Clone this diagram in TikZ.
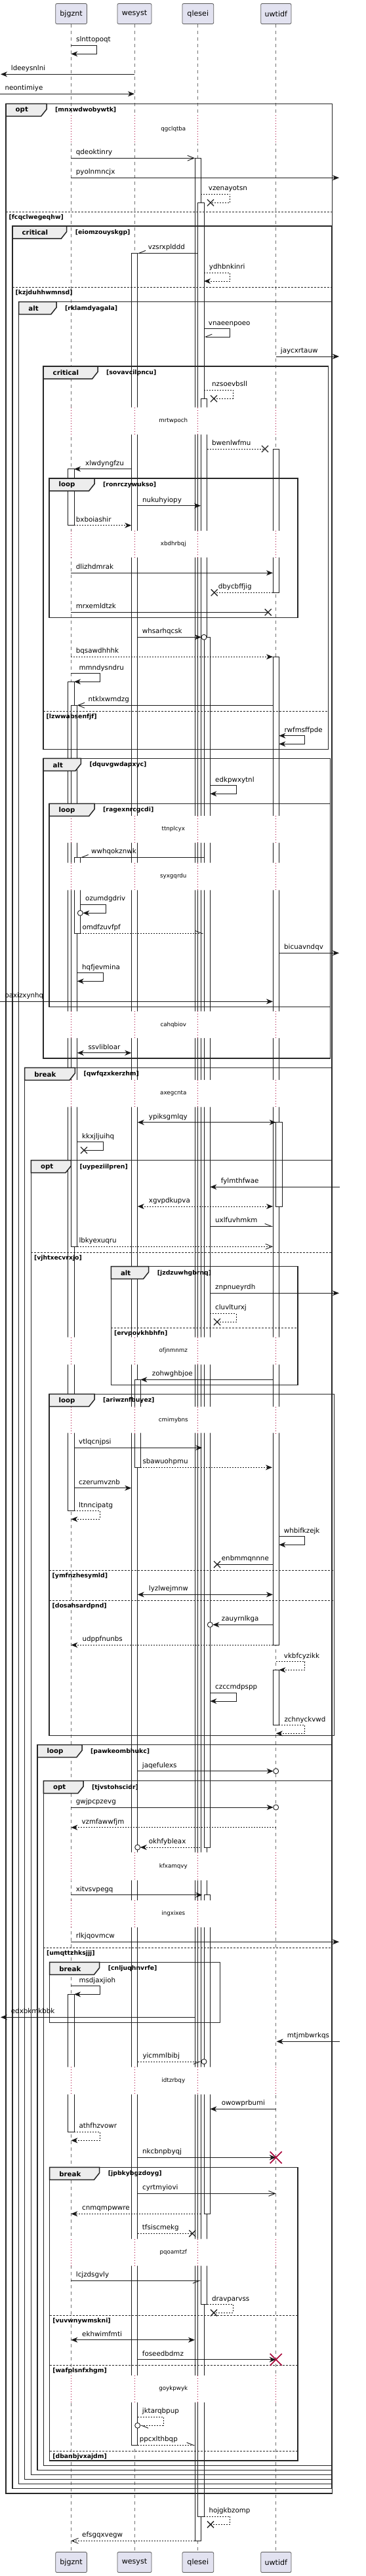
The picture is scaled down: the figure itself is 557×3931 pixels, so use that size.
\documentclass[tikz,border=0pt]{standalone}
\usepackage{fontspec}
\setmainfont{DejaVu Sans}
\usetikzlibrary{arrows.meta}
\definecolor{partfill}{HTML}{E2E2F0}
\definecolor{xred}{HTML}{A80036}
\tikzset{
 pF/.tip={Stealth[length=10pt,width=8pt,inset=3pt]},
 pO/.tip={Straight Barb[length=10pt,width=8pt]},
 pHL/.tip={Straight Barb[length=10pt,width=8pt,left]},
 pHR/.tip={Straight Barb[length=10pt,width=8pt,right]},
 part/.style={draw=black!65, fill=partfill, rounded corners=2pt, minimum height=31pt, inner sep=0pt, line width=0.8pt, font=\fontsize{11.1}{13}\selectfont},
 life/.style={draw=black!55, line width=0.9pt, dash pattern=on 5pt off 5pt},
 actbar/.style={draw=black!90, fill=white, line width=0.9pt},
 msg/.style={draw=black!90, line width=0.9pt},
 dmsg/.style={msg, dash pattern=on 2pt off 2pt},
 lbl/.style={anchor=base west, inner sep=0pt, font=\fontsize{10.3}{12}\selectfont},
 frmline/.style={draw=black!85, line width=1.5pt},
 tabfill/.style={draw=black!85, fill=black!7, line width=1.5pt},
 tabtxt/.style={anchor=west, inner sep=0pt, font=\bfseries\fontsize{10.2}{12}\selectfont},
 guardtxt/.style={anchor=west, inner sep=0pt, font=\bfseries\fontsize{9.3}{11}\selectfont},
 elseline/.style={draw=black!85, line width=0.8pt, dash pattern=on 3pt off 2pt},
 dlyline/.style={draw=xred, line width=0.9pt, dash pattern=on 1pt off 3pt},
 dlytxt/.style={inner sep=0pt, font=\fontsize{8.7}{10}\selectfont},
}
\newcommand\lab[3]{\node[lbl] (#3) at (#1,#2-5.5) {#3};}
\newcommand\xm[2]{\draw[line width=1.3pt, black!85] (#1-5,#2-5) -- (#1+5,#2+5) (#1-5,#2+5) -- (#1+5,#2-5);}
\newcommand\rx[2]{\draw[line width=1.6pt, xred] (#1-9,#2-9) -- (#1+9,#2+9) (#1-9,#2+9) -- (#1+9,#2-9);}
\newcommand\oc[2]{\draw[line width=0.9pt, black!90, fill=white] (#1,#2) circle (4pt);}
\newcommand\actb[4]{\draw[actbar] (#1,#2) rectangle (#3,#4);}
\newcommand\frm[7]{%
  \draw[frmline] (#1,#2) rectangle (#3,#4);
  \draw[tabfill] (#1,#2) -- (#5,#2) -- (#5,#2+8.5) -- (#5-8.3,#2+19) -- (#1,#2+19) -- cycle;
  \node[tabtxt] (t-#7) at (#1+14.5,#2+10) {#6};
  \node[guardtxt] (g-#7) at (#5+13,#2+10) {[#7]};
}
\newcommand\els[4]{%
  \draw[elseline] (#1,#3) -- (#2,#3);
  \node[guardtxt] (g-#4) at (#1+4.5,#3+8.5) {[#4]};
}
\newcommand\dly[3]{%
  \fill[white] (101,#1) rectangle (125,#2) (198,#1) rectangle (217,#2) (295,#1) rectangle (323,#2) (414,#1) rectangle (432,#2);
  \draw[dlyline] (108.3,#1) -- (108.3,#2) (205,#1) -- (205,#2) (301.7,#1) -- (301.7,#2) (420.7,#1) -- (420.7,#2);
  \node[dlytxt] (d-#3) at ({264.3},{(#1+#2)/2}) {#3};
}
\begin{document}
\begin{tikzpicture}[x=1pt,y=-1pt]
\useasboundingbox[fill=white] (0,0) rectangle (557,3931);
% participants
\node[part, minimum width=47.7pt] (pB) at (108.6,21) {bjgznt};
\node[part, minimum width=52pt] (pW) at (205,21) {wesyst};
\node[part, minimum width=47.7pt] (pQ) at (301.8,21) {qlesei};
\node[part, minimum width=46.3pt] (pU) at (420.8,21) {uwtidf};
\node[part, minimum width=47.7pt] (pBb) at (108.6,3910) {bjgznt};
\node[part, minimum width=52pt] (pWb) at (205,3910) {wesyst};
\node[part, minimum width=47.7pt] (pQb) at (301.8,3910) {qlesei};
\node[part, minimum width=46.3pt] (pUb) at (420.8,3910) {uwtidf};
% lifelines
\draw[life] (pB) -- (pBb);
\draw[life] (pW) -- (pWb);
\draw[life] (pQ) -- (pQb);
\draw[life] (pU) -- (pUb);
% activation bars
\actb{297}{241.3}{306}{3877.3}
\actb{301.7}{309.3}{311}{3840}
\actb{306.3}{608.3}{315.7}{3516.7}
\actb{311}{972.3}{320.3}{2819}
\actb{311}{2891.7}{320.3}{3378.3}
\actb{200.3}{386.3}{209.7}{3731.3}
\actb{205}{2105.3}{214.3}{2239.3}
\actb{103.7}{715.7}{113}{801.7}
\actb{103.7}{1040.3}{113}{2305.7}
\actb{108.3}{1076.3}{117.7}{1902.3}
\actb{113}{1308.3}{122.3}{1424.3}
\actb{103.7}{3043.3}{113}{3253.3}
\actb{416}{685}{425.3}{904.3}
\actb{416}{1002.3}{425.3}{2510.3}
\actb{420.7}{1712.7}{430}{1841}
\actb{416}{2548.3}{425.3}{2632.7}
% delays
\dly{176}{219}{qgclqtba}
\dly{621.7}{663}{mrtwpoch}
\dly{810}{850.7}{xbdhrbqj}
\dly{1245}{1286}{ttnplcyx}
\dly{1316.7}{1358.3}{syxgqrdu}
\dly{1543.3}{1584}{cahqbiov}
\dly{1648}{1689.3}{axegcnta}
\dly{2040.7}{2082.3}{ofjnmnmz}
\dly{2146.5}{2186.7}{cmimybns}
\dly{2826.7}{2869.3}{kfxamqvy}
\dly{2900}{2941}{ingxixes}
\dly{3154.3}{3196}{idtzrbqy}
\dly{3416.7}{3457.7}{pqoamtzf}
\dly{3625}{3666}{goykpwyk}
% frames
\frm{9}{158.3}{506.3}{3805}{71}{opt}{mnxwdwobywtk}
\els{9}{506.3}{323.3}{fcqclwegeqhw}
\frm{19}{345}{506}{3797.3}{101.7}{critical}{eiomzouyskgp}
\els{19}{506}{438}{kzjduhhwmnsd}
\frm{28.7}{460.7}{505.7}{3790.3}{86}{alt}{rklamdyagala}
\frm{66}{559}{500.7}{1143.3}{149}{critical}{sovavcilpncu}
\els{66}{500.7}{1085.3}{lzwwabsenfjf}
\frm{75}{730}{454}{942.3}{144}{loop}{ronrczywukso}
\frm{66}{1157.3}{503.3}{1615}{123.3}{alt}{dquvgwdapxyc}
\frm{75}{1226.3}{503.3}{1536.3}{144}{loop}{ragexnrcgcdi}
\frm{37.7}{1629.3}{505.5}{3783.3}{114.3}{break}{qwfqzxkerzhm}
\frm{47.3}{1770.7}{505.5}{3776.3}{108.3}{opt}{uypeziilpren}
\els{47.3}{505.5}{1911.3}{vjhtxecvrxjo}
\frm{169.3}{1932.7}{454}{2113.3}{226.7}{alt}{jzdzuwhgbrnq}
\els{169.3}{454}{2026.3}{ervpovkhbhfn}
\frm{75}{2127.3}{509.3}{2648.3}{144}{loop}{ariwznfbuyez}
\els{75}{509.3}{2396}{ymfnzhesymld}
\els{75}{509.3}{2442.3}{dosahsardpnd}
\frm{57}{2662.7}{505.5}{3769.3}{125}{loop}{pawkeombhukc}
\frm{66.3}{2717.7}{505.5}{3762.3}{127}{opt}{tjvstohscidr}
\els{66.3}{505.5}{2972.3}{umqttzhksjjj}
\frm{75.7}{2994.3}{335.7}{3086.7}{151.7}{break}{cnljuqhnvrfe}
\frm{75.7}{3307.3}{454}{3755}{151.7}{break}{jpbkybgzdoyg}
\els{75.7}{454}{3533}{vuvwnywmskni}
\els{75.7}{454}{3609.3}{wafplsnfxhgm}
\els{75.7}{454}{3740.3}{dbanbjvxajdm}
% messages
\draw[msg,-{pF}] (108.3,69.3) -- (147.7,69.3) -- (147.7,82.3) -- (108.3,82.3); \lab{116}{69.3}{slnttopoqt}
\draw[msg,-{pF}] (205,113.3) -- (1,113.3); \lab{16.7}{113.3}{ldeeysnlni}
\draw[msg,-{pF}] (0,143.3) -- (205,143.3); \lab{7.3}{143.3}{neontimiye}
\draw[msg,-{pO}] (108.3,241.3) -- (297,241.3); \lab{115.7}{241.3}{qdeoktinry}
\draw[msg,-{pF}] (108.3,271.3) -- (517,271.3); \lab{115.7}{271.3}{pyolnmncjx}
\draw[dmsg] (306,296) -- (350.7,296) -- (350.7,309.3) -- (321,309.3); \xm{321}{309.3} \lab{317.7}{296}{vzenayotsn}
\draw[msg,-{pHR}] (301.7,386.3) -- (209.7,386.3); \lab{225.7}{386.3}{vzsrxplddd}
\draw[dmsg,-{pF}] (311,416.3) -- (350.7,416.3) -- (350.7,429) -- (311,429); \lab{318.7}{416.3}{ydhbnkinri}
\draw[msg,-{pHR}] (311,501.7) -- (350.7,501.7) -- (350.7,514) -- (311,514); \lab{317.7}{501.7}{vnaeenpoeo}
\draw[msg,-{pF}] (420.7,544) -- (517,544); \lab{427.7}{544}{jaycxrtauw}
\draw[dmsg] (311,595.3) -- (355,595.3) -- (355,608.3) -- (326,608.3); \xm{326}{608.3} \lab{323}{595.3}{nzsoevbsll}
\draw[dmsg] (315.7,685) -- (404,685); \xm{404}{685} \lab{323}{685}{bwenlwfmu}
\draw[msg,-{pF}] (200.3,715.7) -- (113,715.7); \lab{130}{715.7}{xlwdyngfzu}
\draw[msg,-{pF}] (209.7,771.7) -- (306,771.7); \lab{217}{771.7}{nukuhyiopy}
\draw[dmsg,-{pF}] (113,801.7) -- (200.3,801.7); \lab{115.7}{801.7}{bxboiashir}
\draw[msg,-{pF}] (108.3,874.3) -- (416,874.3); \lab{115.7}{874.3}{dlizhdmrak}
\draw[dmsg] (416,904.3) -- (326.7,904.3); \xm{326.7}{904.3} \lab{332.7}{904.3}{dbycbffjig}
\draw[msg] (108.3,934.3) -- (408.7,934.3); \xm{408.7}{934.3} \lab{115.7}{934.3}{mrxemldtzk}
\draw[msg,-{pF}] (209.7,972.3) -- (307,972.3); \oc{311}{972.3} \lab{216.7}{972.3}{whsarhqcsk}
\draw[dmsg,-{pF}] (108.3,1002.3) -- (416,1002.3); \lab{115.7}{1002.3}{bqsawdhhhk}
\draw[msg,-{pF}] (108.3,1027.7) -- (152.3,1027.7) -- (152.3,1040.3) -- (113,1040.3); \lab{120.3}{1027.7}{mmndysndru}
\draw[msg,-{pO}] (416,1076.3) -- (117.7,1076.3); \lab{134.3}{1076.3}{ntklxwmdzg}
\draw[msg,{pF}-{pF}] (425.3,1122.7) -- (464.7,1122.7) -- (464.7,1135.3) -- (425.3,1135.3); \lab{433.3}{1122.7}{rwfmsffpde}
\draw[msg,-{pF}] (320.3,1198.7) -- (360,1198.7) -- (360,1211.3) -- (320.3,1211.3); \lab{328}{1198.7}{edkpwxytnl}
\draw[msg,-{pHR}] (311,1308.3) -- (122.3,1308.3); \lab{139}{1308.3}{wwhqokznwk}
\draw[msg,-{pF}] (122.3,1380) -- (161.7,1380) -- (161.7,1393.3) -- (126.3,1393.3); \oc{122.3}{1393.3} \lab{130}{1380}{ozumdgdriv}
\draw[dmsg,-{pHL}] (122.3,1424.3) -- (310,1424.3); \lab{125.3}{1424.3}{omdfzuvfpf}
\draw[msg,-{pF}] (425.3,1454.3) -- (517,1454.3); \lab{433}{1454.3}{bicuavndqv}
\draw[msg,-{pF}] (117.7,1484.7) -- (157,1484.7) -- (157,1497.3) -- (117.7,1497.3); \lab{125}{1484.7}{hqfjevmina}
\draw[msg,-{pF}] (0,1528.3) -- (416,1528.3); \lab{7.3}{1528.3}{oaxizxynhq}
\draw[msg,{pF}-{pF}] (117.7,1606.7) -- (200.3,1606.7); \lab{134.3}{1606.7}{ssvlibloar}
\draw[msg,{pF}-{pF}] (209.7,1712.7) -- (420.7,1712.7); \lab{226.7}{1712.7}{ypiksgmlqy}
\draw[msg] (117.7,1742.7) -- (157,1742.7) -- (157,1755.3) -- (128,1755.3); \xm{128}{1755.3} \lab{125}{1742.7}{kkxjljuihq}
\draw[msg,-{pF}] (518,1811.3) -- (320.3,1811.3); \lab{336.7}{1811.3}{fylmthfwae}
\draw[dmsg,{pF}-{pF}] (209.7,1841) -- (416,1841); \lab{226.7}{1841}{xgvpdkupva}
\draw[msg,-{pHL}] (320.3,1871.3) -- (416,1871.3); \lab{328}{1871.3}{uxlfuvhmkm}
\draw[dmsg,-{pO}] (117.7,1902.3) -- (416,1902.3); \lab{120.3}{1902.3}{lbkyexuqru}
\draw[msg,-{pF}] (320.3,1973.3) -- (517,1973.3); \lab{328}{1973.3}{znpnueyrdh}
\draw[dmsg] (320.3,2004.3) -- (360,2004.3) -- (360,2017.3) -- (331,2017.3); \xm{331}{2017.3} \lab{328}{2004.3}{cluvlturxj}
\draw[msg,-{pF}] (416,2105.3) -- (214.3,2105.3); \lab{231.7}{2105.3}{zohwghbjoe}
\draw[msg,-{pF}] (113,2209.3) -- (308.3,2209.3); \lab{120}{2209.3}{vtlqcnjpsi}
\draw[dmsg,-{pF}] (214.3,2239.3) -- (415,2239.3); \lab{217.3}{2239.3}{sbawuohpmu}
\draw[msg,-{pF}] (113,2270.7) -- (200.3,2270.7); \lab{120}{2270.7}{czerumvznb}
\draw[dmsg,-{pF}] (113,2305.7) -- (152.3,2305.7) -- (152.3,2318.3) -- (108.3,2318.3); \lab{120}{2305.7}{ltnncipatg}
\draw[msg,-{pF}] (425.3,2344.7) -- (464.7,2344.7) -- (464.7,2357.3) -- (425.3,2357.3); \lab{432.7}{2344.7}{whbifkzejk}
\draw[msg] (416,2387.3) -- (331,2387.3); \xm{331}{2387.3} \lab{337.7}{2387.3}{enbmmqnnne}
\draw[msg,{pF}-{pF}] (209.7,2433.3) -- (416,2433.3); \lab{226.7}{2433.3}{lyzlwejmnw}
\draw[msg,-{pF}] (416,2479.3) -- (324.3,2479.3); \oc{320.3}{2479.3} \lab{337.7}{2479.3}{zauyrnlkga}
\draw[dmsg,-{pF}] (416,2510.3) -- (108.3,2510.3); \lab{125.3}{2510.3}{udppfnunbs}
\draw[dmsg,-{pF}] (420.7,2535.7) -- (464.7,2535.7) -- (464.7,2548.3) -- (425.3,2548.3); \lab{432.7}{2535.7}{vkbfcyzikk}
\draw[msg,-{pF}] (320.3,2583.3) -- (360,2583.3) -- (360,2596) -- (320.3,2596); \lab{328}{2583.3}{czccmdpspp}
\draw[dmsg,-{pF}] (425.3,2632.7) -- (464.7,2632.7) -- (464.7,2645.3) -- (420.7,2645.3); \lab{433.3}{2632.7}{zchnyckvwd}
\draw[msg,-{pF}] (209.7,2702.7) -- (416.7,2702.7); \oc{420.7}{2702.7} \lab{216.7}{2702.7}{jaqefulexs}
\draw[msg,-{pF}] (108.3,2758) -- (416.7,2758); \oc{420.7}{2758} \lab{115.7}{2758}{gwjpcpzevg}
\draw[dmsg,-{pF}] (420.7,2788.7) -- (108.3,2788.7); \lab{124.3}{2788.7}{vzmfawwfjm}
\draw[dmsg,-{pF}] (305,2819) -- (213.7,2819); \oc{209.7}{2819} \lab{226.7}{2819}{okhfybleax}
\draw[msg,-{pF}] (108.3,2891.7) -- (308.3,2891.7); \lab{115.7}{2891.7}{xitvsvpegq}
\draw[msg,-{pF}] (108.3,2963.3) -- (517,2963.3); \lab{115.7}{2963.3}{rlkjqovmcw}
\draw[msg,-{pF}] (108.3,3030.7) -- (152.3,3030.7) -- (152.3,3043.3) -- (113,3043.3); \lab{120.3}{3030.7}{msdjaxjioh}
\draw[msg,-{pF}] (297,3078.3) -- (1,3078.3); \lab{16.7}{3078.3}{edxbkmkbbk}
\draw[msg,-{pF}] (518,3115.3) -- (421.7,3115.3); \lab{437.7}{3115.3}{mtjmbwrkqs}
\draw[dmsg,-{pHR}] (209.7,3146) -- (307,3146); \oc{311}{3146} \lab{217.3}{3146}{yicmmlbibj}
\draw[msg,-{pF}] (420.7,3218.3) -- (320.3,3218.3); \lab{337.7}{3218.3}{owowprbumi}
\draw[dmsg,-{pF}] (113,3253.3) -- (152.3,3253.3) -- (152.3,3266.3) -- (108.3,3266.3); \lab{120.3}{3253.3}{athfhzvowr}
\draw[msg,-{pF}] (209.7,3292.3) -- (420.7,3292.3); \rx{420.7}{3292.3} \lab{217}{3292.3}{nkcbnpbyqj}
\draw[msg,-{pO}] (209.7,3347.3) -- (420.7,3347.3); \lab{217}{3347.3}{cyrtmyiovi}
\draw[dmsg,-{pF}] (306.3,3378.3) -- (108.3,3378.3); \lab{125}{3378.3}{cnmqmpwwre}
\draw[dmsg] (209.7,3408.3) -- (293.3,3408.3); \xm{293.3}{3408.3} \lab{216.7}{3408.3}{tfsiscmekg}
\draw[msg,-{pHR}] (108.3,3480.3) -- (306.3,3480.3); \lab{115.7}{3480.3}{lcjzdsgvly}
\draw[dmsg] (315.7,3516.7) -- (355,3516.7) -- (355,3529.3) -- (326,3529.3); \xm{326}{3529.3} \lab{323}{3516.7}{dravparvss}
\draw[msg,{pF}-{pF}] (108.3,3570.7) -- (297,3570.7); \lab{125}{3570.7}{ekhwimfmti}
\draw[msg,-{pF}] (209.7,3600.7) -- (420.7,3600.7); \rx{420.7}{3600.7} \lab{216.7}{3600.7}{foseedbdmz}
\draw[dmsg,-{pHL}] (209.7,3688.3) -- (249,3688.3) -- (249,3701.3) -- (213.7,3701.3); \oc{209.7}{3701.3} \lab{216.7}{3688.3}{jktarqbpup}
\draw[dmsg,-{pHL}] (209.7,3731.3) -- (297,3731.3); \lab{212.7}{3731.3}{ppcxlthbqp}
\draw[dmsg] (311,3840) -- (350.7,3840) -- (350.7,3852.3) -- (321,3852.3); \xm{321}{3852.3} \lab{318.3}{3840}{hojgkbzomp}
\draw[dmsg,-{pO}] (297,3877.3) -- (108.3,3877.3); \lab{125}{3877.3}{efsgqxvegw}
\end{tikzpicture}
\end{document}
